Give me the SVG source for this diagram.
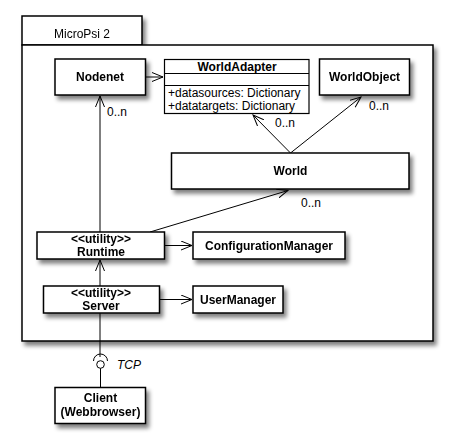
<svg xmlns="http://www.w3.org/2000/svg" width="452" height="447" viewBox="0 0 452 447">
<style>
.box{fill:#fff;stroke:#000;stroke-width:1.5}
.thin{fill:#fff;stroke:#000;stroke-width:1.2}
.b{font-family:"Liberation Sans",Arial,sans-serif;font-size:12px;font-weight:bold;text-anchor:middle;fill:#000}
.r{font-family:"Liberation Sans",Arial,sans-serif;font-size:12px;fill:#000}
.c{stroke:#000;stroke-width:1;fill:none}
</style>
<defs>
<filter id="sh" x="-20%" y="-20%" width="150%" height="160%">
<feGaussianBlur in="SourceAlpha" stdDeviation="2"/>
<feOffset dx="3" dy="4" result="o"/>
<feComponentTransfer><feFuncA type="linear" slope="0.5"/></feComponentTransfer>
<feMerge><feMergeNode/><feMergeNode in="SourceGraphic"/></feMerge>
</filter>
<marker id="ar" viewBox="0 0 12 10" refX="11" refY="5" markerWidth="12" markerHeight="10" markerUnits="userSpaceOnUse" orient="auto">
<path d="M0,0.5 L11,5 L0,9.5" fill="none" stroke="#000" stroke-width="1"/>
</marker>
</defs>
<g id="package" filter="url(#sh)">
<rect class="box" x="22" y="16" width="120" height="29"/>
<rect class="box" x="22" y="45" width="411" height="296"/>
<text class="r" x="82" y="38" text-anchor="middle">MicroPsi 2</text>
</g>
<g id="connectors">
<line class="c" x1="146" y1="77" x2="163" y2="77" marker-end="url(#ar)"/>
<line class="c" x1="100" y1="232" x2="100" y2="96" marker-end="url(#ar)"/>
<text class="r" x="107" y="116">0..n</text>
<line class="c" x1="290.5" y1="153" x2="253" y2="115" marker-end="url(#ar)"/>
<text class="r" x="275" y="127">0..n</text>
<line class="c" x1="290.5" y1="153" x2="361" y2="97" marker-end="url(#ar)"/>
<text class="r" x="369" y="110">0..n</text>
<line class="c" x1="150" y1="232" x2="288" y2="190.5" marker-end="url(#ar)"/>
<text class="r" x="301" y="207">0..n</text>
<line class="c" x1="165" y1="245.5" x2="192" y2="245.5" marker-end="url(#ar)"/>
<line class="c" x1="100" y1="286" x2="100" y2="260" marker-end="url(#ar)"/>
<line class="c" x1="159" y1="299.5" x2="192" y2="299.5" marker-end="url(#ar)"/>
<line class="c" x1="100" y1="313" x2="100" y2="357"/>
<path class="c" d="M93.5,361 A7,7 0 0 1 107.5,361"/>
<circle class="c" cx="100.5" cy="364.5" r="3.8"/>
<line class="c" x1="100.5" y1="368.3" x2="100.5" y2="387"/>
<text class="r" x="117" y="369" font-style="italic">TCP</text>
</g>
<g id="nodenet" filter="url(#sh)">
<rect class="box" x="55" y="59" width="90.5" height="36"/>
<text class="b" x="100" y="81">Nodenet</text>
</g>
<g id="worldadapter">
<rect class="thin" x="164.5" y="59.5" width="144.5" height="54"/>
<line class="c" x1="164.5" y1="73.5" x2="309" y2="73.5"/>
<line class="c" x1="164.5" y1="85.5" x2="309" y2="85.5"/>
<text class="b" x="237" y="71">WorldAdapter</text>
<text class="r" x="168" y="97">+datasources: Dictionary</text>
<text class="r" x="168" y="110">+datatargets: Dictionary</text>
</g>
<g id="worldobject" filter="url(#sh)">
<rect class="box" x="319.5" y="59" width="90" height="36"/>
<text class="b" x="364.5" y="81">WorldObject</text>
</g>
<g id="world" filter="url(#sh)">
<rect class="box" x="171.5" y="153" width="237.5" height="36"/>
<text class="b" x="290.5" y="175">World</text>
</g>
<g id="runtime" filter="url(#sh)">
<rect class="box" x="37" y="232" width="127.5" height="27"/>
<text class="b" x="101" y="243">&lt;&lt;utility&gt;&gt;</text>
<text class="b" x="101" y="256">Runtime</text>
</g>
<g id="configurationmanager" filter="url(#sh)">
<rect class="box" x="193" y="232" width="152" height="27"/>
<text class="b" x="269" y="250">ConfigurationManager</text>
</g>
<g id="server" filter="url(#sh)">
<rect class="box" x="43.5" y="286" width="116" height="27"/>
<text class="b" x="101" y="297">&lt;&lt;utility&gt;&gt;</text>
<text class="b" x="101" y="310">Server</text>
</g>
<g id="usermanager" filter="url(#sh)">
<rect class="box" x="193" y="286" width="90" height="27"/>
<text class="b" x="238" y="304">UserManager</text>
</g>
<g id="client" filter="url(#sh)">
<rect class="box" x="55" y="387.5" width="90.5" height="36"/>
<text class="b" x="100.5" y="402">Client</text>
<text class="b" x="100.5" y="416">(Webbrowser)</text>
</g>
</svg>
